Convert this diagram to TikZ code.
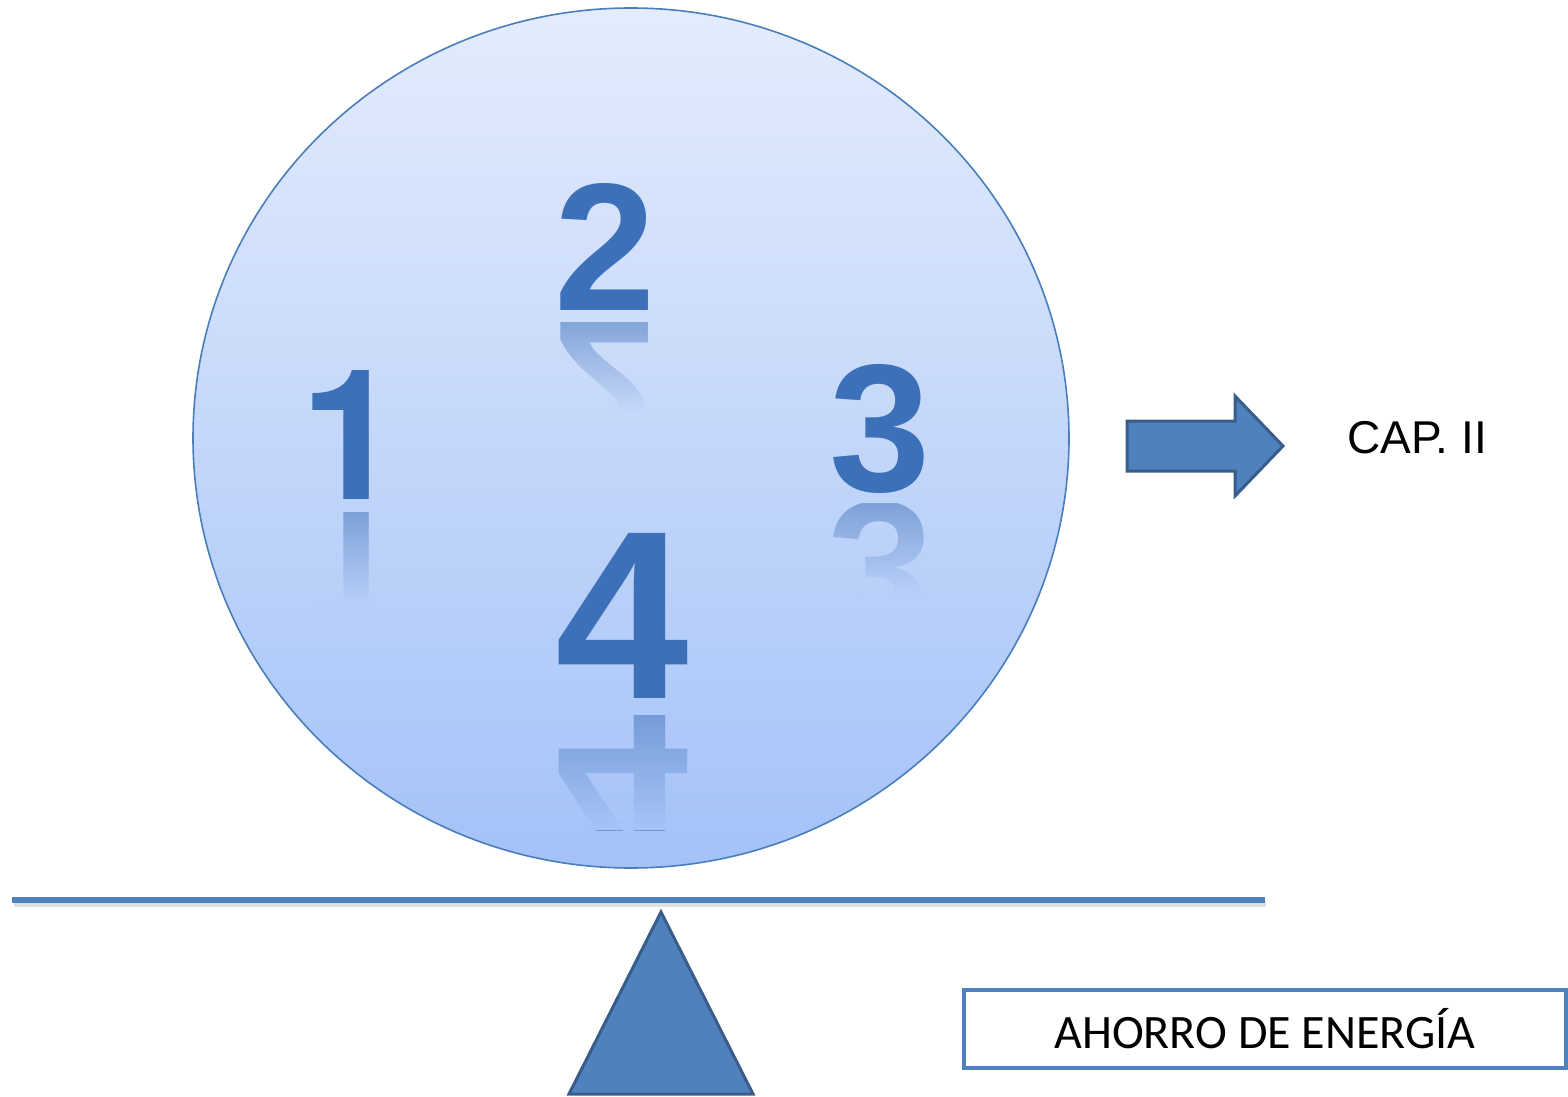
\documentclass[tikz,border=0pt]{standalone}
\usepackage{fontspec}
\setmainfont{Liberation Sans}
\newfontfamily\calibrifont{Carlito}
\newfontfamily\heroesfont{TeX Gyre Heros}
\usepackage{graphicx}
\usetikzlibrary{fadings}

\definecolor{shapeblue}{HTML}{4F81BD}
\definecolor{edgeblue}{HTML}{385D8A}
\definecolor{digitblue}{HTML}{3C70B8}
\definecolor{balltop}{HTML}{E4ECFC}
\definecolor{ballbottom}{HTML}{A4C2F8}
\definecolor{balledge}{HTML}{4A7EBB}

\tikzset{
  numtext/.style={text=digitblue, font=\bfseries, inner sep=0pt, anchor=base},
  blockshape/.style={fill=shapeblue, draw=edgeblue, line width=1.5pt, line join=miter},
}

% mirrored digit under the ball's gradient: x, top y, font, digit, length
\newcommand\mirrordigit[5]{%
  \pgfmathsetmacro\mixtop{(#2-8)/8.6}%
  \pgfmathsetmacro\mixbot{(#2+#5-8)/8.6}%
  \begin{scope}
    \clip (#1-90, #2) rectangle (#1+90, #2+#5);
    \node[numtext, opacity=0.5] (mirror#4) at (#1,#2)
      {#3\scalebox{1}[-1]{#4}};
  \end{scope}
  \shade[top color=ballbottom!\mixtop!balltop, bottom color=ballbottom!\mixbot!balltop,
         path fading=north] (#1-90, #2) rectangle (#1+90, #2+#5);
}

\begin{document}
\begin{tikzpicture}[x=0.5pt, y=-0.5pt]

    \useasboundingbox (0,0) rectangle (1568,1097);

    % ball
    \shade[top color=balltop, bottom color=ballbottom] (631,438) ellipse [x radius=438, y radius=430];
    \draw[balledge, line width=0.8pt] (631,438) ellipse [x radius=438, y radius=430];

    \node[numtext] (two)   at (605,310) {\fontsize{91}{91}\selectfont 2};
    \node[numtext] (one)   at (351,499) {\heroesfont\fontsize{91}{91}\selectfont 1};
    \node[numtext] (three) at (880,491) {\fontsize{91}{91}\selectfont 3};
    \node[numtext] (four)  at (622,698) {\fontsize{120}{120}\selectfont 4};

    \mirrordigit{605}{322}{\fontsize{91}{91}\selectfont}{2}{90}
    \mirrordigit{351}{512}{\heroesfont\fontsize{91}{91}\selectfont}{1}{90}
    \mirrordigit{880}{503}{\fontsize{91}{91}\selectfont}{3}{90}
    \mirrordigit{622}{715}{\fontsize{120}{120}\selectfont}{4}{115}

    % beam and pivot
    \draw[black!12, line width=3pt] (14,903.5) -- (1266,903.5);
    \draw[shapeblue, line width=3pt] (12,900) -- (1265,900);
    \draw[blockshape] (661,912) -- (753,1094) -- (569,1094) -- cycle;

    % arrow
    \draw[blockshape] (1127,421) -- (1235,421) -- (1235,396) -- (1283,446)
        -- (1235,496) -- (1235,471) -- (1127,471) -- cycle;
    \node[font=\fontsize{23}{23}\selectfont] (cap) at (1417,438) {CAP. II};

    % label box
    \node[draw=shapeblue, line width=2pt, minimum width=301pt, minimum height=39pt,
          inner sep=0pt, font=\calibrifont\fontsize{24}{24}\selectfont] (saving) at (1265,1029)
          {AHORRO DE ENERGÍA};

\end{tikzpicture}
\end{document}
